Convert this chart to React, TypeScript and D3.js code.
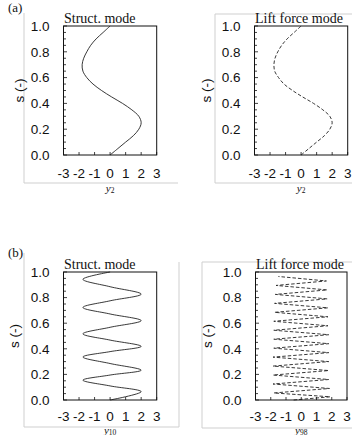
import React from "react";
import * as d3 from "d3";

// ---- data ----
const S_A = [0, 0.05, 0.1, 0.15, 0.2, 0.25, 0.3, 0.35, 0.4, 0.45, 0.5, 0.55, 0.6, 0.65, 0.7, 0.75, 0.8, 0.85, 0.9, 0.95, 1.0];
const Y2_STRUCT = [0, 0.5, 1.0, 1.5, 1.85, 2.0, 1.85, 1.4, 0.8, 0.1, -0.55, -1.1, -1.5, -1.75, -1.8, -1.7, -1.5, -1.25, -0.9, -0.45, 0];
const Y2_LIFT = [0, 0.5, 1.0, 1.5, 1.85, 2.0, 1.85, 1.4, 0.8, 0.1, -0.55, -1.1, -1.45, -1.7, -1.75, -1.68, -1.5, -1.25, -0.9, -0.45, 0];

const S_B10 = [0, 0.065, 0.11, 0.155, 0.195, 0.233, 0.285, 0.336, 0.378, 0.419, 0.468, 0.517, 0.568, 0.62, 0.672, 0.723, 0.775, 0.827, 0.885, 0.943, 1.0];
const Y10_STRUCT = [0, 2.0, 0, -1.75, 0, 2.0, 0, -1.75, 0, 2.0, 0, -1.75, 0, 2.0, 0, -1.75, 0, 2.0, 0, -1.75, 0];

const S_B98 = [0.0, 0.025, 0.055, 0.09, 0.125, 0.16, 0.195, 0.23, 0.265, 0.3, 0.335, 0.37, 0.405, 0.44, 0.475, 0.51, 0.545, 0.58, 0.615, 0.65, 0.685, 0.72, 0.755, 0.79, 0.825, 0.86, 0.895, 0.93, 0.965];
const Y98_LIFT = [-0.5, 1.9, -1.8, 1.85, -1.85, 1.8, -1.85, 1.8, -1.85, 1.8, -1.85, 1.8, -1.8, 1.8, -1.8, 1.8, -1.8, 1.75, -1.8, 1.75, -1.75, 1.75, -1.75, 1.7, -1.7, 1.7, -1.65, 1.65, -1.5];

const X_TICKS = [-3, -2, -1, 0, 1, 2, 3];
const Y_TICKS = [0, 0.2, 0.4, 0.6, 0.8, 1.0];
const TITLES = ["Struct. mode", "Lift force mode", "Struct. mode", "Lift force mode"];
const X_SUBS = ["2", "2", "10", "98"];
const PANEL_LETTERS = ["(a)", "(b)"];

type Panel = {
  x0: number; x1: number; y0: number; y1: number;
  s: number[]; v: number[]; dashed: boolean; curve: any;
  title: string; sub: string; slabX: number; xlabY: number; tickOff: number;
};

const panels: Panel[] = [
  { x0: 63.5, x1: 156.7, y0: 26, y1: 155, s: S_A, v: Y2_STRUCT, dashed: false, curve: d3.curveCatmullRom, title: TITLES[0], sub: X_SUBS[0], slabX: 19, xlabY: 192, tickOff: 18 },
  { x0: 254.5, x1: 347.7, y0: 26, y1: 155, s: S_A, v: Y2_LIFT, dashed: true, curve: d3.curveCatmullRom, title: TITLES[1], sub: X_SUBS[1], slabX: 206, xlabY: 192, tickOff: 18 },
  { x0: 63.5, x1: 156.7, y0: 272, y1: 400, s: S_B10, v: Y10_STRUCT, dashed: false, curve: d3.curveCatmullRom, title: TITLES[2], sub: X_SUBS[2], slabX: 14, xlabY: 433.5, tickOff: 16 },
  { x0: 255.5, x1: 347, y0: 272, y1: 400, s: S_B98, v: Y98_LIFT, dashed: true, curve: d3.curveLinear, title: TITLES[3], sub: X_SUBS[3], slabX: 207, xlabY: 433.5, tickOff: 16 },
];

const SANS = "'Liberation Sans', Arial, sans-serif";
const SERIF = "'Liberation Serif', 'Times New Roman', serif";

function PanelView({ p }: { p: Panel }) {
  const x = d3.scaleLinear().domain([-3, 3]).range([p.x0, p.x1]);
  const y = d3.scaleLinear().domain([0, 1]).range([p.y1, p.y0]);
  const pts = p.s.map((s, i) => [p.v[i], s] as [number, number]);
  const line = d3.line<[number, number]>().x(d => x(d[0])).y(d => y(d[1])).curve(p.curve);
  const minor = d3.range(0, 21).map(i => i * 0.05);
  const cx = (p.x0 + p.x1) / 2;
  const cy = (p.y0 + p.y1) / 2;
  return (
    <g>
      <path d={line(pts) || ""} fill="none" stroke="#222" strokeWidth={0.9}
        strokeDasharray={p.dashed ? "3.5,2" : undefined} />
      <rect x={p.x0} y={p.y0} width={p.x1 - p.x0} height={p.y1 - p.y0} fill="none" stroke="#111" strokeWidth={1} />
      {minor.map((t, i) => (
        <line key={"m" + i} x1={p.x0} x2={p.x0 + (i % 4 === 0 ? 3.5 : 2.5)} y1={y(t)} y2={y(t)} stroke="#111" strokeWidth={0.8} />
      ))}
      {X_TICKS.map((t, i) => (
        <line key={"xt" + i} x1={x(t)} x2={x(t)} y1={p.y1} y2={p.y1 - 3} stroke="#111" strokeWidth={0.8} />
      ))}
      {Y_TICKS.map((t, i) => (
        <text key={"yl" + i} x={p.x0 - 14} y={y(t)} dy="0.36em" textAnchor="end" fontFamily={SANS} fontSize={13.5} fill="#111">
          {t.toFixed(1)}
        </text>
      ))}
      {X_TICKS.map((t, i) => (
        <text key={"xl" + i} x={x(t)} y={p.y1 + p.tickOff} dy="0.36em" textAnchor="middle" fontFamily={SANS} fontSize={13.5} fill="#111">
          {t < 0 ? "-" + Math.abs(t) : String(t)}
        </text>
      ))}
      <text x={p.x0 + 0.5} y={p.y0 - 3} fontFamily={SERIF} fontSize={14} fill="#111">{p.title}</text>
      <text transform={`translate(${p.slabX},${cy}) rotate(-90)`} textAnchor="middle" dy="0.36em" fontFamily={SANS} fontSize={13.5} fill="#111">s (-)</text>
      <text x={cx} y={p.xlabY} textAnchor="middle" fontFamily={SERIF} fontSize={11} fill="#111">
        <tspan fontStyle="italic">y</tspan>
        <tspan fontSize={7.5} dy={1}>{p.sub}</tspan>
      </text>
    </g>
  );
}

export default function App() {
  const grey = "#cfcfcf";
  return (
    <svg width={352} height={435} style={{ position: "absolute", left: 0, top: 0, background: "#fff" }}>
      <rect x={0} y={0} width={352} height={435} fill="#fff" />
      {/* light frames around each sub-figure */}
      <path d="M24,13 V183 H178" fill="none" stroke={grey} strokeWidth={1} />
      <path d="M215,183 V14 H353 M215,183 H353" fill="none" stroke={grey} strokeWidth={1} />
      <path d="M24,253 V427 H179 V262" fill="none" stroke={grey} strokeWidth={1} />
      <path d="M202,428 V262 H353 M202,428 H353" fill="none" stroke={grey} strokeWidth={1} />
      <text x={8} y={12} fontFamily={SERIF} fontSize={13} fill="#111">{PANEL_LETTERS[0]}</text>
      <text x={8} y={257} fontFamily={SERIF} fontSize={13} fill="#111">{PANEL_LETTERS[1]}</text>
      {panels.map((p, i) => <PanelView key={i} p={p} />)}
    </svg>
  );
}
